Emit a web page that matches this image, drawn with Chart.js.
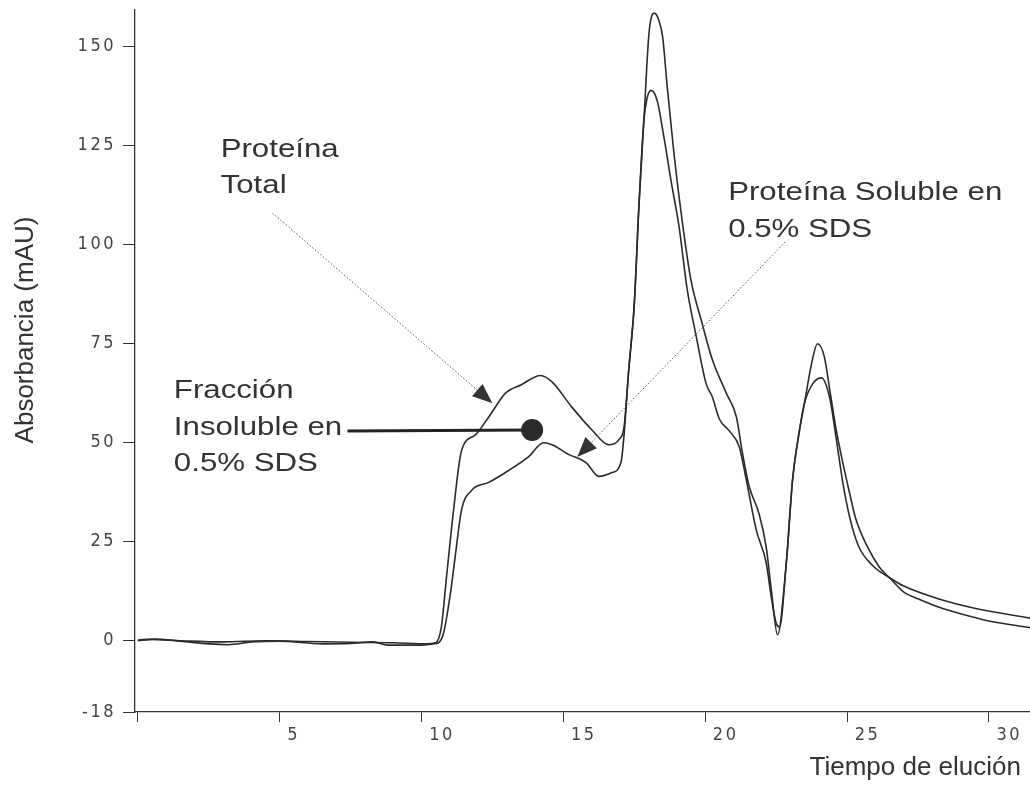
<!DOCTYPE html>
<html>
<head>
<meta charset="utf-8">
<script src="https://cdn.jsdelivr.net/npm/chart.js@4.4.1/dist/chart.umd.min.js"></script>
<style>
  html, body { margin: 0; padding: 0; background: #fff; }
  #wrap { width: 1030px; height: 785px; position: relative; }
</style>
</head>
<body>
<div id="wrap"><canvas id="chart"></canvas></div>
<script>
// elution time (min) and absorbance (mAU)
const totalX = [0, 0.5, 1.5, 3.0, 4.5, 6.0, 7.5, 9.0, 10.2, 10.5,
  10.7, 10.88, 11.13, 11.41, 11.9, 12.37, 12.97, 13.5, 14.2, 14.6,
  15.3, 16.0, 16.6, 16.96, 17.14, 17.3, 17.5, 17.67, 17.84, 18.02,
  18.2, 18.35, 18.5, 18.66, 18.9, 19.19, 19.5, 19.86, 20.25, 20.74,
  21.1, 21.3, 21.55, 21.9, 22.15, 22.33, 22.55, 22.86, 23.08, 23.32,
  23.5, 23.75, 23.96, 24.2, 24.4, 24.6, 24.85, 25.1, 25.3, 25.7,
  26.15, 26.5, 27.0, 27.5, 28.3, 29.0, 30.0, 31.45];
const totalY = [0, 0.3, 0, -0.3, 0, -0.2, -0.4, -0.5, -0.8, -0.5,
  3.5, 16, 33, 48, 52, 56.5, 62.6, 64.6, 67, 65.4,
  59, 53.3, 49.5, 50.8, 54, 68, 85, 110.6, 131.5, 153.5,
  158.5, 157, 152.5, 140, 123, 106, 91, 81, 71, 62.6,
  56.5, 48, 39, 32, 23.7, 12.9, 1.5, 19.7, 40.6, 53,
  60, 70, 75, 71.7, 63, 54, 45, 37, 31, 24,
  18.5, 15.9, 12.3, 10.6, 8.3, 6.8, 5.0, 3.3];

const solubleX = [0, 0.6, 1.5, 2.5, 3.2, 4.0, 5.0, 6.5, 7.5, 8.3,
  8.8, 10.0, 10.4, 10.6, 10.78, 11.02, 11.2, 11.41, 11.77, 12.37,
  13.07, 13.78, 14.3, 14.6, 15.2, 15.8, 16.25, 16.7, 17.03, 17.14,
  17.3, 17.5, 17.67, 17.84, 17.95, 18.09, 18.3, 18.55, 18.8, 19.08,
  19.36, 19.68, 20.03, 20.25, 20.5, 20.85, 21.2, 21.45, 21.8, 22.15,
  22.33, 22.5, 22.62, 22.86, 23.08, 23.32, 23.5, 23.8, 24.1, 24.4,
  24.6, 24.85, 25.1, 25.4, 25.9, 26.5, 27.0, 28.3, 29.5, 31.45];
const solubleY = [0.2, 0.4, -0.1, -0.8, -1.0, -0.3, -0.1, -0.8, -0.7, -0.3,
  -1.1, -1.1, -0.8, -0.5, 2, 12, 22, 33, 38, 40,
  43, 46.5, 50, 49.5, 47, 45, 41.5, 42.4, 45, 52,
  68, 85, 110.6, 131.5, 137, 139, 136.6, 127, 116, 104.5,
  89, 77, 65, 61.6, 56, 53, 49, 40.6, 28, 19.7,
  11, 4.5, 3.5, 19.7, 40.6, 53, 60, 65, 66.4, 61,
  52, 40, 31, 24, 19, 15.9, 13.8, 10.4, 8.2, 5.7];

const yTicks = [-18, 0, 25, 50, 75, 100, 125, 150];
const xTicks = [0, 5, 10, 15, 20, 25, 30];

const yTitle = "Absorbancia (mAU)";
const xTitle = "Tiempo de elución";

// callouts, placed in data units
const labels = [
  { lines: ["Proteína", "Total"], x: 2.92, y: 122.2 },
  { lines: ["Proteína Soluble en", "0.5% SDS"], x: 20.81, y: 111.3 },
  { lines: ["Fracción", "Insoluble en", "0.5% SDS"], x: 1.27, y: 61.3 }
];
const arrows = [
  { from: [4.75, 108], to: [12.5, 60] },
  { from: [22.82, 100.7], to: [15.49, 46.4] }
];
const pin = { from: [7.39, 53], to: [13.9, 53.2] };

const ink = "#2b2b2b";
const tickFont = "'Liberation Sans Narrow', 'Arial Narrow', 'DejaVu Sans Condensed', sans-serif";
const textFont = "'Liberation Sans', Arial, sans-serif";

function toPoints(xs, ys) {
  return xs.map((x, i) => ({ x: x, y: ys[i] }));
}

const spacing = {
  id: "spacing",
  beforeDraw(chart) { chart.ctx.letterSpacing = "2.5px"; },
  beforeDatasetsDraw(chart) { chart.ctx.letterSpacing = "0px"; }
};

const callouts = {
  id: "callouts",
  afterDatasetsDraw(chart) {
    const ctx = chart.ctx;
    const sx = chart.scales.x, sy = chart.scales.y;
    const px = v => sx.getPixelForValue(v);
    const py = v => sy.getPixelForValue(v);

    ctx.save();
    // dotted arrows
    arrows.forEach(a => {
      const x0 = px(a.from[0]), y0 = py(a.from[1]);
      const x1 = px(a.to[0]), y1 = py(a.to[1]);
      const len = Math.hypot(x1 - x0, y1 - y0);
      const ux = (x1 - x0) / len, uy = (y1 - y0) / len;
      const head = 20, half = 8;
      const bx = x1 - ux * head, by = y1 - uy * head;
      ctx.strokeStyle = "#555";
      ctx.lineWidth = 1;
      ctx.setLineDash([1.5, 2]);
      ctx.beginPath();
      ctx.moveTo(x0, y0);
      ctx.lineTo(bx, by);
      ctx.stroke();
      ctx.setLineDash([]);
      ctx.fillStyle = "#333";
      ctx.beginPath();
      ctx.moveTo(x1, y1);
      ctx.lineTo(bx - uy * half, by + ux * half);
      ctx.lineTo(bx + uy * half, by - ux * half);
      ctx.closePath();
      ctx.fill();
    });

    // solid pointer with dot
    ctx.strokeStyle = "#222";
    ctx.lineWidth = 3;
    ctx.beginPath();
    ctx.moveTo(px(pin.from[0]), py(pin.from[1]));
    ctx.lineTo(px(pin.to[0]), py(pin.to[1]));
    ctx.stroke();
    ctx.fillStyle = "#2a2a2a";
    ctx.beginPath();
    ctx.arc(px(pin.to[0]), py(pin.to[1]), 11, 0, Math.PI * 2);
    ctx.fill();

    // text
    ctx.fillStyle = "#333";
    ctx.font = "26px " + textFont;
    ctx.textAlign = "left";
    ctx.textBaseline = "alphabetic";
    labels.forEach(l => {
      const x = px(l.x), y = py(l.y);
      l.lines.forEach((s, i) => {
        ctx.save();
        ctx.translate(x, y + i * 36.5);
        ctx.scale(1.2, 1);
        ctx.fillText(s, 0, 0);
        ctx.restore();
      });
    });
    ctx.restore();
  },
  afterDraw(chart) {
    const ctx = chart.ctx;
    ctx.save();
    ctx.letterSpacing = "0px";
    ctx.fillStyle = "#333";
    ctx.font = "26px " + textFont;
    ctx.textBaseline = "middle";
    ctx.textAlign = "center";
    ctx.translate(26, 330);
    ctx.rotate(-Math.PI / 2);
    ctx.fillText(yTitle, 0, 0);
    ctx.restore();

    ctx.save();
    ctx.fillStyle = "#333";
    ctx.font = "26px " + textFont;
    ctx.textAlign = "right";
    ctx.textBaseline = "alphabetic";
    ctx.fillText(xTitle, 1021, 775);
    ctx.restore();
  }
};

new Chart(document.getElementById("chart"), {
  type: "line",
  data: {
    datasets: [
      {
        label: "Proteína Total",
        data: toPoints(totalX, totalY),
        borderColor: ink,
        borderWidth: 1.6,
        pointRadius: 0,
        fill: false,
        cubicInterpolationMode: "monotone"
      },
      {
        label: "Proteína Soluble en 0.5% SDS",
        data: toPoints(solubleX, solubleY),
        borderColor: ink,
        borderWidth: 1.6,
        pointRadius: 0,
        fill: false,
        cubicInterpolationMode: "monotone"
      }
    ]
  },
  options: {
    responsive: true,
    maintainAspectRatio: false,
    animation: false,
    layout: { padding: { top: 10, right: 0, left: 0, bottom: 0 } },
    plugins: {
      legend: { display: false },
      tooltip: { enabled: false }
    },
    scales: {
      x: {
        type: "linear",
        min: -0.1,
        max: 31.45,
        afterBuildTicks: s => { s.ticks = xTicks.map(v => ({ value: v })); },
        afterFit: s => { s.height = 73; s.paddingLeft = 0; s.paddingRight = 0; },
        grid: { display: true, drawOnChartArea: false, drawTicks: true, tickLength: 10, tickColor: "#333", color: "#333" },
        border: { display: true, color: "#333", width: 1.3 },
        ticks: {
          align: "start",
          padding: 3,
          maxRotation: 0,
          autoSkip: false,
          color: "#444",
          font: { family: tickFont, size: 18 },
          callback: v => (v === 0 ? "" : " " + v)
        }
      },
      y: {
        min: -18,
        max: 159.3,
        afterBuildTicks: s => { s.ticks = yTicks.map(v => ({ value: v })); },
        afterFit: s => { s.width = 135; s.paddingTop = 0; s.paddingBottom = 0; },
        grid: { display: true, drawOnChartArea: false, drawTicks: true, tickLength: 12, tickColor: "#333", color: "#333" },
        border: { display: true, color: "#333", width: 1.3 },
        ticks: {
          padding: 7,
          autoSkip: false,
          color: "#444",
          font: { family: tickFont, size: 18 }
        }
      }
    }
  },
  plugins: [spacing, callouts]
});
</script>
</body>
</html>
